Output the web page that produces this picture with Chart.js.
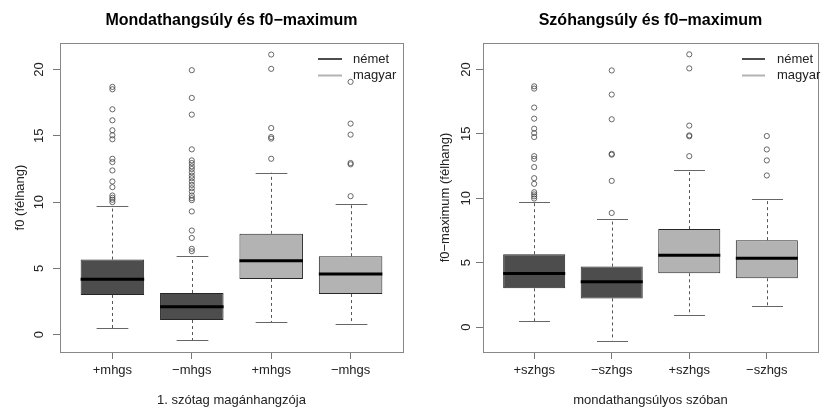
<!DOCTYPE html>
<html>
<head>
<meta charset="utf-8">
<script src="https://cdn.jsdelivr.net/npm/chart.js@4.4.1/dist/chart.umd.min.js"></script>
<style>
  body { margin: 0; background: #fff; }
  #wrap { position: relative; width: 823px; height: 413px; }
  #wrap canvas { position: absolute; top: 0; }
</style>
</head>
<body>
<div id="wrap">
  <canvas id="leftChart" width="411" height="413" style="left:0"></canvas>
  <canvas id="rightChart" width="412" height="413" style="left:411px"></canvas>
</div>
<script>
// series names (legend)
const seriesNames = ['német', 'magyar'];
const seriesColors = ['#4d4d4d', '#b3b3b3'];

// left panel: Mondathangsúly
const leftLabels = ['+mhgs', '−mhgs', '+mhgs', '−mhgs'];
const leftLow = [0.5, -0.4, 0.93, 0.81];
const leftQ1 = [3.0, 1.11, 4.21, 3.07];
const leftMed = [4.18, 2.12, 5.59, 4.58];
const leftQ3 = [5.67, 3.15, 7.61, 5.92];
const leftHigh = [9.7, 5.92, 12.22, 9.87];
const leftOut = [
    [18.69, 18.51, 17.0, 16.17, 15.42, 15.04, 14.74, 13.27, 13.02, 12.39, 11.56, 11.13, 10.5, 10.33, 10.18, 10.0],
    [19.95, 17.86, 16.6, 13.98, 13.15, 12.95, 12.7, 12.5, 12.25, 12.0, 11.8, 11.55, 11.3, 11.05, 10.8, 10.5, 10.3, 10.15, 9.3, 7.86, 7.3, 6.48, 6.3],
    [21.13, 20.05, 15.59, 14.91, 14.79, 13.27],
    [19.07, 15.92, 15.09, 12.95, 12.85, 10.45]
];

// right panel: Szóhangsúly
const rightLabels = ['+szhgs', '−szhgs', '+szhgs', '−szhgs'];
const rightLow = [0.47, -1.04, 0.94, 1.64];
const rightQ1 = [3.01, 2.23, 4.18, 3.79];
const rightMed = [4.16, 3.53, 5.58, 5.35];
const rightQ3 = [5.66, 4.7, 7.61, 6.75];
const rightHigh = [9.71, 8.39, 12.21, 9.95];
const rightOut = [
    [18.69, 18.51, 17.04, 16.18, 15.4, 15.06, 14.75, 13.27, 13.06, 12.42, 11.56, 11.12, 10.47, 10.3, 10.15, 9.98],
    [19.92, 18.05, 16.13, 13.45, 13.38, 11.35, 8.86],
    [21.17, 20.08, 15.64, 14.88, 14.81, 13.27],
    [14.83, 13.79, 12.94, 11.77]
];

const yTicks = [0, 5, 10, 15, 20];

Chart.defaults.font.family = "'Liberation Sans', Arial, sans-serif";
Chart.defaults.color = '#222';

// whiskers, medians, frame and legend in R boxplot style
const rBoxPlugin = {
    id: 'rBox',
    beforeDatasetsDraw(chart, args, opts) {
        const { ctx, scales: { x, y } } = chart;
        const half = (x.getPixelForValue(2) - x.getPixelForValue(1)) * 0.8 / 4;
        ctx.save();
        opts.low.forEach((lo, i) => {
            const px = Math.round(x.getPixelForValue(i + 1)) + 0.5;
            // dashed whiskers
            ctx.strokeStyle = '#555';
            ctx.lineWidth = 1;
            ctx.setLineDash([3, 3]);
            ctx.beginPath();
            ctx.moveTo(px, y.getPixelForValue(opts.q3[i]));
            ctx.lineTo(px, y.getPixelForValue(opts.high[i]));
            ctx.moveTo(px, y.getPixelForValue(opts.q1[i]));
            ctx.lineTo(px, y.getPixelForValue(lo));
            ctx.stroke();
            // caps (half the box width)
            ctx.setLineDash([]);
            ctx.strokeStyle = '#666';
            ctx.beginPath();
            [lo, opts.high[i]].forEach(v => {
                const py = Math.round(y.getPixelForValue(v)) + 0.5;
                ctx.moveTo(px - half, py);
                ctx.lineTo(px + half, py);
            });
            ctx.stroke();
        });
        ctx.restore();
    },
    afterDatasetsDraw(chart, args, opts) {
        const { ctx, chartArea: a, scales: { x, y } } = chart;
        const half = (x.getPixelForValue(2) - x.getPixelForValue(1)) * 0.8 / 2;
        ctx.save();
        // medians
        ctx.strokeStyle = '#000';
        ctx.lineWidth = 3;
        opts.med.forEach((m, i) => {
            const px = x.getPixelForValue(i + 1);
            const py = y.getPixelForValue(m);
            ctx.beginPath();
            ctx.moveTo(px - half, py);
            ctx.lineTo(px + half, py);
            ctx.stroke();
        });
        // frame
        ctx.strokeStyle = '#888';
        ctx.lineWidth = 1;
        ctx.strokeRect(Math.round(a.left) + 0.5, Math.round(a.top) + 0.5,
            Math.round(a.right - a.left), Math.round(a.bottom - a.top));
        // legend
        const lg = opts.legend;
        ctx.font = "13px 'Liberation Sans', Arial, sans-serif";
        ctx.textBaseline = 'middle';
        ctx.textAlign = 'left';
        seriesNames.forEach((name, i) => {
            const ly = lg.y + i * lg.gap;
            ctx.strokeStyle = seriesColors[i];
            ctx.lineWidth = 2;
            ctx.beginPath();
            ctx.moveTo(lg.x1, ly);
            ctx.lineTo(lg.x2, ly);
            ctx.stroke();
            ctx.fillStyle = '#222';
            ctx.fillText(name, lg.tx, ly);
        });
        ctx.restore();
    }
};

function makePanel(id, p) {
    const boxData = (from, to) => p.labels.slice(from, to).map((_, k) => {
        const i = from + k;
        return { x: i + 1, y: [p.q1[i], p.q3[i]] };
    });
    const outData = [];
    p.out.forEach((list, i) => list.forEach(v => outData.push({ x: i + 1, y: v })));

    return new Chart(document.getElementById(id), {
        type: 'bar',
        data: {
            datasets: [
                {
                    type: 'scatter',
                    label: 'outliers',
                    data: outData,
                    pointStyle: 'circle',
                    pointRadius: 2.6,
                    pointBorderWidth: 0.8,
                    pointBorderColor: '#444',
                    pointBackgroundColor: 'rgba(0,0,0,0)'
                },
                {
                    label: seriesNames[0],
                    data: boxData(0, 2),
                    backgroundColor: seriesColors[0],
                    borderColor: '#262626',
                    borderWidth: 1,
                    borderSkipped: false
                },
                {
                    label: seriesNames[1],
                    data: boxData(2, 4),
                    backgroundColor: seriesColors[1],
                    borderColor: '#262626',
                    borderWidth: 1,
                    borderSkipped: false
                }
            ]
        },
        options: {
            responsive: false,
            animation: false,
            events: [],
            grouped: false,
            categoryPercentage: 1,
            barPercentage: 0.8,
            layout: { padding: { top: 0, left: 0, right: p.rightPad, bottom: 0 } },
            plugins: {
                legend: { display: false },
                tooltip: { enabled: false },
                title: {
                    display: true,
                    fullSize: false,
                    text: p.title,
                    color: '#000',
                    font: { size: 16, weight: 'bold' },
                    padding: { top: 11, bottom: 12.8 }
                },
                rBox: {
                    low: p.low, q1: p.q1, med: p.med, q3: p.q3, high: p.high,
                    legend: p.legend
                }
            },
            scales: {
                x: {
                    type: 'linear',
                    offset: false,
                    min: 0.34,
                    max: 4.66,
                    afterBuildTicks: s => { s.ticks = p.labels.map((_, i) => ({ value: i + 1 })); },
                    afterFit: s => { s.height = 61; },
                    border: { display: false },
                    grid: { offset: false, drawOnChartArea: false, drawTicks: true, tickLength: 7, color: '#777' },
                    ticks: {
                        font: { size: 13 },
                        padding: 4,
                        maxRotation: 0,
                        autoSkip: false,
                        callback: v => p.labels[v - 1]
                    },
                    title: {
                        display: true,
                        text: p.xTitle,
                        font: { size: 13 },
                        padding: { bottom: 4.8 }
                    }
                },
                y: {
                    min: p.yMin,
                    max: p.yMax,
                    afterBuildTicks: s => { s.ticks = yTicks.map(v => ({ value: v })); },
                    afterFit: s => { s.width = p.axisW; },
                    border: { display: false },
                    grid: { drawOnChartArea: false, drawTicks: true, tickLength: 7, color: '#777' },
                    ticks: {
                        font: { size: 13 },
                        minRotation: 90,
                        maxRotation: 90,
                        crossAlign: 'center',
                        padding: p.tickPad
                    },
                    title: {
                        display: true,
                        text: p.yTitle,
                        font: { size: 13 },
                        padding: { top: p.yTitlePad }
                    }
                }
            }
        },
        plugins: [rBoxPlugin]
    });
}

makePanel('leftChart', {
    title: 'Mondathangsúly és f0−maximum',
    xTitle: '1. szótag magánhangzója',
    yTitle: 'f0 (félhang)',
    labels: leftLabels,
    low: leftLow, q1: leftQ1, med: leftMed, q3: leftQ3, high: leftHigh, out: leftOut,
    yMin: -1.3, yMax: 22.0,
    rightPad: 8, axisW: 60, tickPad: 6, yTitlePad: 12.2,
    legend: { x1: 318, x2: 342, tx: 353, y: 59, gap: 16.5 }
});

makePanel('rightChart', {
    title: 'Szóhangsúly és f0−maximum',
    xTitle: 'mondathangsúlyos szóban',
    yTitle: 'f0−maximum (félhang)',
    labels: rightLabels,
    low: rightLow, q1: rightQ1, med: rightMed, q3: rightQ3, high: rightHigh, out: rightOut,
    yMin: -1.93, yMax: 22.05,
    rightPad: 5, axisW: 72, tickPad: 2.5, yTitlePad: 26.2,
    legend: { x1: 331, x2: 354, tx: 366, y: 59, gap: 16.5 }
});
</script>
</body>
</html>
